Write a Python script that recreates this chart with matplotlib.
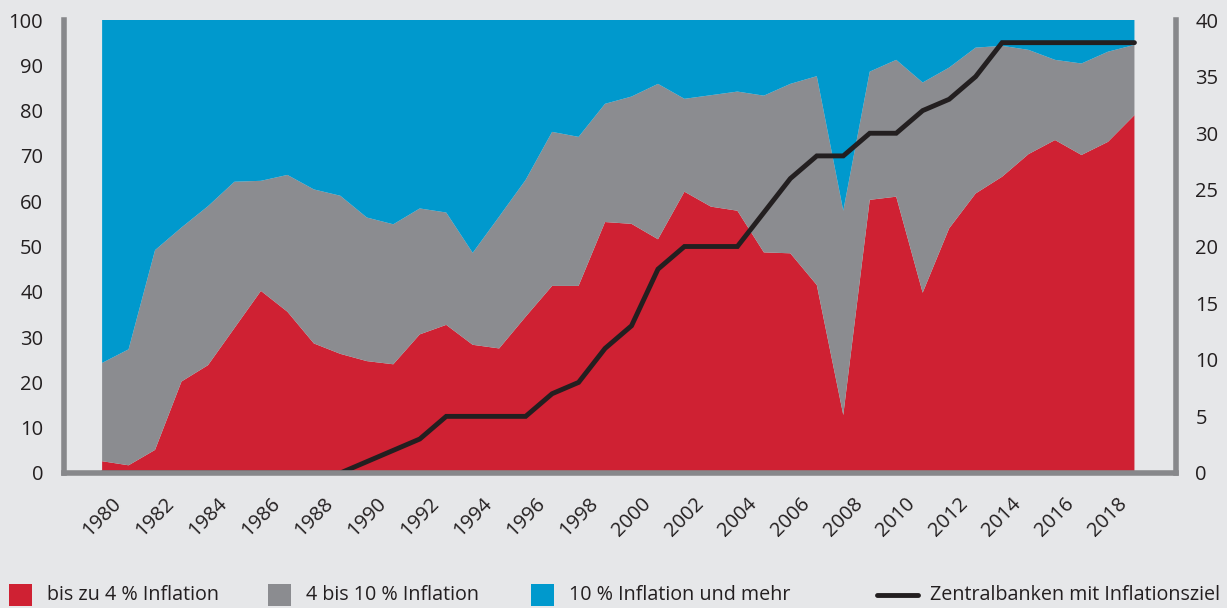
import matplotlib.pyplot as plt
from matplotlib.patches import Rectangle
from matplotlib.lines import Line2D

years = list(range(1980, 2020))

# share of countries (%) - bottom layer: up to 4 % inflation
low_infl = [2.6, 1.7, 5.1, 20.2, 23.8, 32.0, 40.2, 35.6, 28.6, 26.3,
            24.7, 24.0, 30.6, 32.7, 28.3, 27.5, 34.5, 41.3, 41.3, 55.4,
            55.0, 51.6, 62.1, 58.8, 57.9, 48.7, 48.5, 41.5, 12.8, 60.3,
            61.0, 39.8, 54.0, 61.7, 65.4, 70.4, 73.5, 70.2, 73.1, 79.0]
# cumulative top of the 4-10 % layer
mid_top = [24.3, 27.3, 49.2, 54.2, 58.9, 64.3, 64.5, 65.8, 62.6, 61.2,
           56.4, 54.9, 58.4, 57.5, 48.6, 56.6, 64.7, 75.3, 74.2, 81.5,
           83.1, 85.9, 82.6, 83.4, 84.2, 83.3, 85.9, 87.6, 57.9, 88.6,
           91.2, 86.2, 89.5, 93.9, 94.3, 93.4, 91.2, 90.4, 93.0, 94.5]
mid_infl = [t - l for t, l in zip(mid_top, low_infl)]
high_infl = [100 - t for t in mid_top]

# number of central banks with inflation target (right axis)
targets = [0, 0, 0, 0, 0, 0, 0, 0, 0, 0,
           1, 2, 3, 5, 5, 5, 5, 7, 8, 11,
           13, 18, 20, 20, 20, 23, 26, 28, 28, 30,
           30, 32, 33, 35, 38, 38, 38, 38, 38, 38]

labels = ["bis zu 4 % Inflation", "4 bis 10 % Inflation",
          "10 % Inflation und mehr", "Zentralbanken mit Inflationsziel"]

bg = "#e6e7e9"
red = "#cf2133"
grey = "#8b8c90"
blue = "#0099cd"
black = "#231f20"
spine_col = "#87888b"

plt.rcParams['font.family'] = ['Open Sans', 'DejaVu Sans']
plt.rcParams['font.size'] = 14.5
plt.rcParams['text.color'] = "#231f20"

fig = plt.figure(figsize=(12.27, 6.08), dpi=100, facecolor=bg)
ax = fig.add_axes([64 / 1227, 1 - 473 / 608, (1176 - 64) / 1227, (473 - 20) / 608])
ax.set_facecolor(bg)

ax.stackplot(years, low_infl, mid_infl, high_infl,
             colors=[red, grey, blue], linewidth=0)
ax.set_xlim(1978.56, 2020.57)
ax.set_ylim(0, 100)
ax.set_yticks(range(0, 101, 10))
ax.set_xticks(range(1980, 2019, 2))
ax.tick_params(axis='x', length=0, pad=15, labelrotation=45, labelcolor="#231f20")
for lab in ax.get_xticklabels():
    lab.set_ha('center')
ax.tick_params(axis='y', length=0, pad=15, labelcolor="#231f20")
for s in ax.spines.values():
    s.set_visible(False)

ax2 = ax.twinx()
ax2.plot(years, targets, color=black, lw=3.5, solid_capstyle='round',
         solid_joinstyle='miter', zorder=2)
ax2.set_ylim(0, 40)
ax2.set_yticks(range(0, 41, 5))
ax2.tick_params(axis='y', length=0, pad=14, labelcolor="#231f20")
ax2.spines['top'].set_visible(False)
for side in ['left', 'right', 'bottom']:
    ax2.spines[side].set_color(spine_col)
    ax2.spines[side].set_linewidth(4.0)
    ax2.spines[side].set_zorder(3)

# legend row at the bottom
ly = 1 - 595 / 608
sq_w = 23 / 1227
sq_h = 22 / 608
for x0, col, txt in [(9, red, labels[0]), (268, grey, labels[1]), (531, blue, labels[2])]:
    fig.patches.append(Rectangle((x0 / 1227, ly - sq_h / 2), sq_w, sq_h,
                                 transform=fig.transFigure, color=col, lw=0))
    fig.text((x0 + 38) / 1227, ly, txt, va='center', ha='left', fontsize=14.2)
fig.lines.append(Line2D([877 / 1227, 918 / 1227], [ly, ly], transform=fig.transFigure,
                        color=black, lw=3.5, solid_capstyle='round'))
fig.text(930 / 1227, ly, labels[3], va='center', ha='left', fontsize=14.2)

fig.savefig("out.png", dpi=100, facecolor=bg)
